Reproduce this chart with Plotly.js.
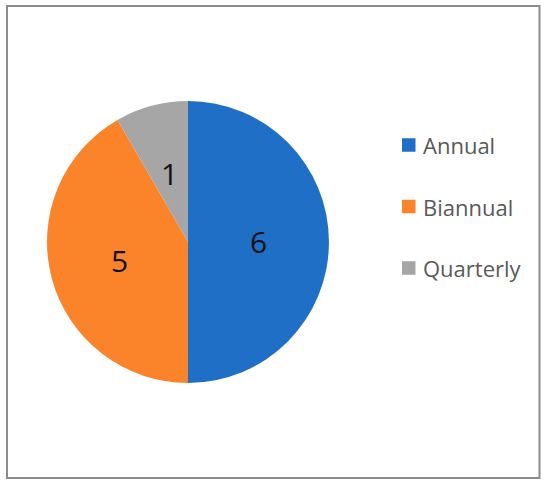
<!DOCTYPE html>
<html>
<head>
<meta charset="utf-8">
<script src="https://cdn.plot.ly/plotly-3.0.1.min.js"></script>
<style>html,body{margin:0;padding:0;background:#fff;}#chart{width:550px;height:487px;}</style>
</head>
<body>
<div id="chart"></div>
<script>
const categories = ["Annual", "Biannual", "Quarterly"];
const counts = [6, 5, 1];
const colors = ["#1F6FC6", "#FB832A", "#A6A6A6"];

const W = 550, H = 487;
const px = x => x / W;
const py = y => 1 - y / H;

const cx = 188, cy = 242, R = 141;

const trace = {
  type: "pie",
  labels: categories,
  values: counts,
  marker: { colors: colors, line: { color: "#ffffff", width: 0 } },
  sort: false,
  direction: "clockwise",
  rotation: 0,
  textinfo: "none",
  showlegend: false,
  hoverinfo: "label+value",
  domain: { x: [px(cx - R), px(cx + R)], y: [py(cy + R), py(cy - R)] }
};

const shapes = [{
  type: "rect", xref: "paper", yref: "paper",
  x0: px(7), x1: px(539.5), y0: py(478), y1: py(6),
  line: { color: "#8C8C8C", width: 2 }
}];
const annotations = [];

// data labels at half radius on each slice's bisector (clockwise from 12 o'clock)
const total = counts.reduce((a, b) => a + b, 0);
let cum = 0;
counts.forEach((v, i) => {
  const mid = (cum + v / 2) / total * 2 * Math.PI;
  cum += v;
  const r = 0.5 * R;
  annotations.push({
    xref: "paper", yref: "paper",
    x: px(cx + r * Math.sin(mid)), y: py(cy - r * Math.cos(mid)),
    xanchor: "center", yanchor: "middle", showarrow: false,
    text: String(v), font: { family: "Open Sans", size: 30, color: "#111111" }
  });
});

const legendTop = 145, legendStep = 61.5, sq = 13.5, sqX = 402;
categories.forEach((c, i) => {
  const yc = legendTop + i * legendStep;
  shapes.push({
    type: "rect", xref: "paper", yref: "paper",
    x0: px(sqX), x1: px(sqX + sq), y0: py(yc + sq / 2), y1: py(yc - sq / 2),
    fillcolor: colors[i], line: { width: 0 }
  });
  annotations.push({
    xref: "paper", yref: "paper", x: px(421), y: py(yc),
    xanchor: "left", yanchor: "middle", showarrow: false,
    text: c, font: { family: "Open Sans", size: 22, color: "#595959" }
  });
});

const layout = {
  width: W, height: H,
  margin: { l: 0, r: 0, t: 0, b: 0 },
  paper_bgcolor: "#ffffff",
  showlegend: false,
  shapes: shapes,
  annotations: annotations
};

Plotly.newPlot("chart", [trace], layout, { displayModeBar: false, staticPlot: true });
</script>
</body>
</html>
